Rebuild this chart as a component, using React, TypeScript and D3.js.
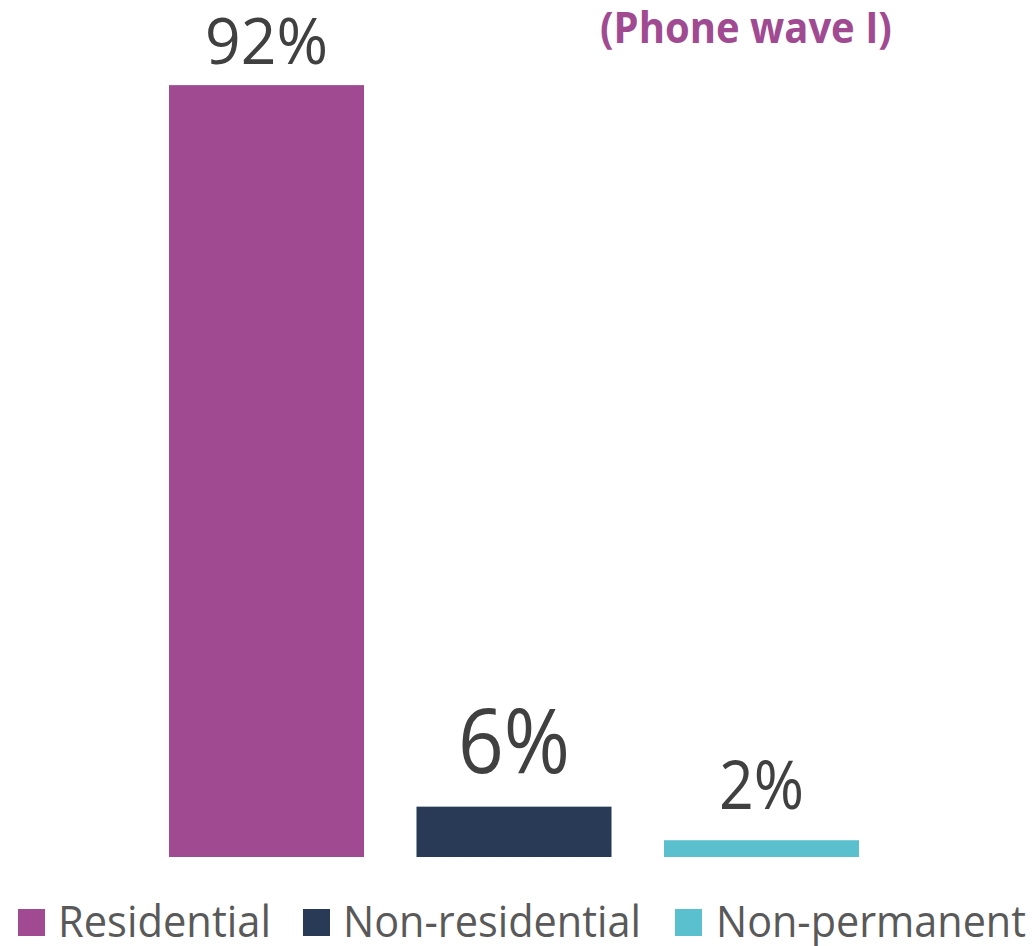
import React from "react";
import * as d3 from "d3";

const categories = ["Residential", "Non-residential", "Non-permanent"];
const values = [92, 6, 2];
const valueLabels = ["92%", "6%", "2%"];
const colors = ["#A04A92", "#283A56", "#5BC0CE"];
const title = "(Phone wave I)";

const FONT = "'Open Sans', sans-serif";

function measure(text: string, size: number, weight: number): number {
  if (typeof document === "undefined") return text.length * size * 0.55;
  const c = document.createElement("canvas");
  const ctx = c.getContext("2d");
  if (!ctx) return text.length * size * 0.55;
  ctx.font = `${weight} ${size}px 'Open Sans', sans-serif`;
  return ctx.measureText(text).width;
}

function FitText(props: {
  x: number;
  y: number;
  len: number;
  size: number;
  weight?: number;
  fill: string;
  children: string;
}) {
  const w = props.weight ?? 400;
  const natural = measure(props.children, props.size, w);
  const s = props.len / natural;
  return (
    <text
      transform={`translate(${props.x},${props.y}) scale(${s},1)`}
      fontSize={props.size}
      fontWeight={w}
      fill={props.fill}
      fontFamily={FONT}
    >
      {props.children}
    </text>
  );
}

export default function App() {
  const W = 1035;
  const H = 946;
  const baseY = 857;
  const x = d3
    .scaleBand<string>()
    .domain(categories)
    .range([169, 859])
    .paddingInner(0.212)
    .paddingOuter(0);
  const y = d3.scaleLinear().domain([0, 100]).range([baseY, baseY - 839]);

  const labelStyle = [
    { size: 64, len: 123, gap: 21 },
    { size: 90, len: 112, gap: 34 },
    { size: 67, len: 85, gap: 31 },
  ];
  const legendItems = [
    { sq: 18, tx: 58, len: 213 },
    { sq: 303, tx: 343, len: 298 },
    { sq: 675, tx: 716, len: 310 },
  ];

  return (
    <svg
      width={W}
      height={H}
      style={{ position: "absolute", left: 0, top: 0, background: "#fff" }}
      fontFamily={FONT}
    >
      <FitText x={600} y={43} len={292} size={43} weight={700} fill="#A04A92">
        {title}
      </FitText>
      {categories.map((c, i) => {
        const bx = x(c)!;
        const bw = x.bandwidth();
        const top = y(values[i]);
        const ls = labelStyle[i];
        return (
          <g key={c}>
            <rect x={bx} y={top} width={bw} height={baseY - top} fill={colors[i]} />
            <FitText
              x={bx + bw / 2 - ls.len / 2}
              y={top - ls.gap}
              len={ls.len}
              size={ls.size}
              fill="#404040"
            >
              {valueLabels[i]}
            </FitText>
          </g>
        );
      })}
      {categories.map((c, i) => {
        const li = legendItems[i];
        return (
          <g key={"lg" + c}>
            <rect x={li.sq} y={909} width={27} height={27} fill={colors[i]} />
            <FitText x={li.tx} y={937} len={li.len} size={44} fill="#595959">
              {c}
            </FitText>
          </g>
        );
      })}
    </svg>
  );
}
